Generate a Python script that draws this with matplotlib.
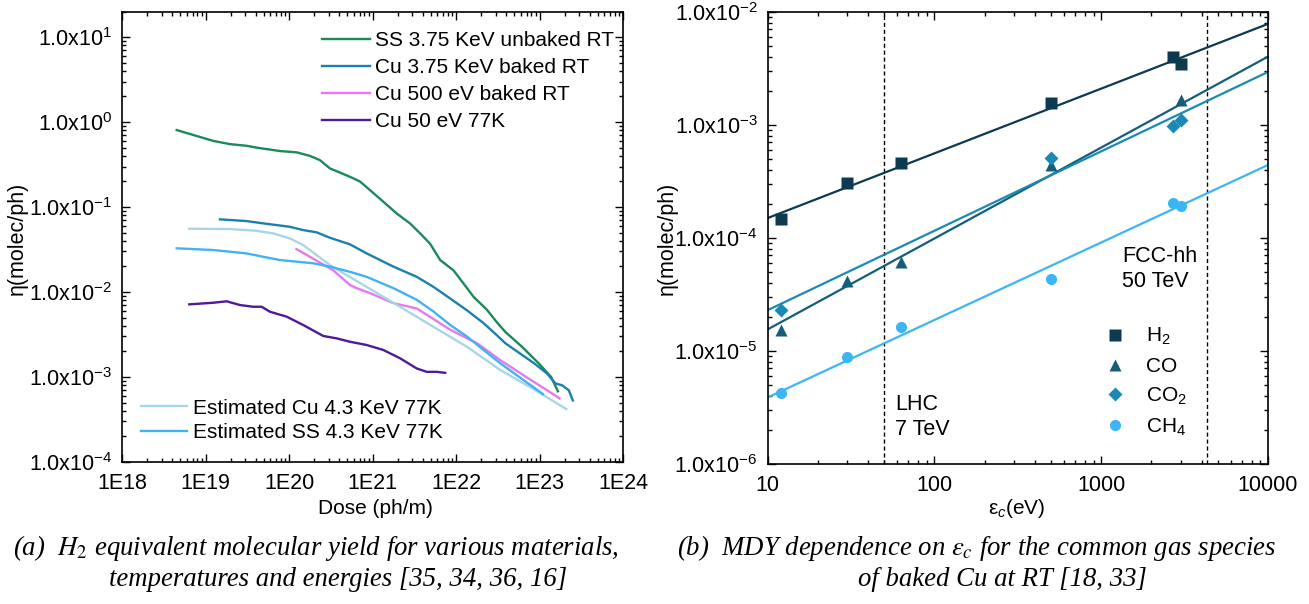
import numpy as np
import matplotlib
matplotlib.use("Agg")
import matplotlib.pyplot as plt
from matplotlib.ticker import LogLocator, FuncFormatter, NullFormatter
from matplotlib.font_manager import FontProperties

plt.rcParams['font.family'] = ['Liberation Sans', 'DejaVu Sans']
plt.rcParams['mathtext.fontset'] = 'custom'
plt.rcParams['mathtext.rm'] = 'Liberation Sans'
plt.rcParams['mathtext.it'] = 'Liberation Sans:italic'

# ---------------- Left panel data (dose in ph/m, eta in molec/ph) ----------------
ss375_dose = [4.52e18, 1.24e19, 1.96e19, 3.11e19, 4.10e19, 7.80e19, 1.24e20, 1.78e20, 2.34e20,
              3.09e20, 5.37e20, 7.08e20, 1.23e21, 1.95e21, 2.82e21, 3.72e21, 4.90e21, 6.46e21,
              9.33e21, 1.23e22, 1.62e22, 2.34e22, 3.09e22, 3.89e22, 6.17e22, 9.77e22, 1.38e23, 1.66e23]
ss375_eta = [0.805, 0.60, 0.55, 0.526, 0.50, 0.456, 0.44, 0.40, 0.357,
             0.285, 0.227, 0.20, 0.125, 0.084, 0.064, 0.049, 0.037, 0.0238,
             0.018, 0.0126, 0.0088, 0.0062, 0.0044, 0.0034, 0.00227, 0.00145, 0.0010, 0.00068]

cu375_dose = [1.49e19, 3.09e19, 4.90e19, 1.02e20, 1.48e20, 2.14e20, 3.09e20, 5.37e20, 8.51e20,
              1.78e21, 3.39e21, 5.37e21, 8.51e21, 1.35e22, 2.14e22, 3.09e22, 3.89e22, 8.71e22,
              1.23e23, 1.55e23, 1.86e23, 2.24e23, 2.51e23]
cu375_eta = [0.0717, 0.0684, 0.0643, 0.0586, 0.0536, 0.0504, 0.0435, 0.0364, 0.0285,
             0.0199, 0.0151, 0.0115, 0.0084, 0.0061, 0.0043, 0.0031, 0.0025, 0.00144,
             0.0011, 0.00084, 0.0008, 0.0007, 0.00053]

cu500_dose = [1.23e20, 3.39e20, 5.37e20, 6.46e20, 9.33e20, 1.78e21, 3.39e21, 4.47e21, 8.51e21,
              1.78e22, 3.39e22, 6.92e22, 1.23e23, 1.74e23]
cu500_eta = [0.032, 0.018, 0.0121, 0.0111, 0.0097, 0.0074, 0.0064, 0.0054, 0.0036,
             0.0025, 0.00158, 0.0010, 0.0007, 0.00056]

cu50_dose = [6.40e18, 1.24e19, 1.79e19, 2.59e19, 3.73e19, 4.71e19, 5.92e19, 9.38e19, 1.48e20,
             2.57e20, 3.72e20, 5.37e20, 8.51e20, 1.35e21, 2.14e21, 3.39e21, 4.47e21, 5.89e21, 7.41e21]
cu50_eta = [0.00716, 0.00748, 0.00778, 0.00703, 0.00671, 0.00671, 0.00586, 0.00513, 0.00409,
            0.00304, 0.00285, 0.0026, 0.00238, 0.00208, 0.00166, 0.00126, 0.00115, 0.00115, 0.00112]

estcu_dose = [6.40e18, 1.96e19, 4.07e19, 6.46e19, 1.02e20, 1.48e20, 2.14e20, 3.09e20, 4.90e20,
              8.51e20, 2.14e21, 5.37e21, 1.35e22, 3.39e22, 8.51e22, 2.09e23]
estcu_eta = [0.0556, 0.0551, 0.0526, 0.049, 0.0428, 0.0357, 0.0272, 0.0208, 0.0158,
             0.0115, 0.0067, 0.0039, 0.00227, 0.00121, 0.00072, 0.00042]

estss_dose = [4.52e18, 1.24e19, 3.09e19, 4.90e19, 7.76e19, 1.95e20, 3.09e20, 5.37e20, 8.51e20,
              1.78e21, 3.39e21, 5.37e21, 8.51e21, 1.35e22, 2.14e22, 3.39e22, 1.10e23]
estss_eta = [0.0327, 0.0312, 0.0285, 0.026, 0.0238, 0.0218, 0.0199, 0.0173, 0.0151,
             0.0111, 0.0081, 0.0059, 0.0041, 0.0030, 0.00208, 0.00145, 0.00063]

left_top_labels = ["SS 3.75 KeV unbaked RT", "Cu 3.75 KeV baked RT", "Cu 500 eV baked RT", "Cu 50 eV 77K"]
left_bottom_labels = ["Estimated Cu 4.3 KeV 77K", "Estimated SS 4.3 KeV 77K"]

# ---------------- Right panel data (critical energy in eV, eta) ----------------
h2_eps = [12, 30, 63, 500, 2700, 3000]
h2_eta = [1.46e-4, 3.04e-4, 4.6e-4, 1.55e-3, 3.94e-3, 3.44e-3]
co_eps = [12, 30, 63, 500, 3000]
co_eta = [1.52e-5, 4.1e-5, 6.13e-5, 4.4e-4, 1.66e-3]
co2_eps = [12, 500, 2700, 3000]
co2_eta = [2.29e-5, 5.05e-4, 9.8e-4, 1.1e-3]
ch4_eps = [12, 30, 63, 500, 2700, 3000]
ch4_eta = [4.2e-6, 8.85e-6, 1.61e-5, 4.3e-5, 2.02e-4, 1.9e-4]

# power-law fits eta = eta10 * (eps/10)^exponent
fit_eta_at_10 = [1.49e-4, 1.54e-5, 2.28e-5, 3.85e-6]
fit_exponent = [0.573, 0.805, 0.703, 0.686]
species_labels = ["H$_2$", "CO", "CO$_2$", "CH$_4$"]
machine_eps = [50, 4300]

# ---------------- Figure ----------------
fig = plt.figure(figsize=(13.09, 6.04), dpi=100)
W, H = 1309, 604

def rect(x0, y0, x1, y1):
    return [x0 / W, 1 - y1 / H, (x1 - x0) / W, (y1 - y0) / H]

axL = fig.add_axes(rect(122, 11.5, 623, 462))
axR = fig.add_axes(rect(767.5, 11.7, 1268, 463.7))

TICK_FS = 15.5
FS = 15

def style_axes(ax):
    ax.set_xscale('log')
    ax.set_yscale('log')
    for s in ax.spines.values():
        s.set_linewidth(1.2)
    ax.tick_params(which='both', direction='in', top=True, right=True, labelsize=TICK_FS, width=1.0)
    ax.tick_params(which='major', length=6)
    ax.tick_params(which='minor', length=3)
    ax.tick_params(axis='y', which='both', pad=7)
    ax.tick_params(axis='x', which='both', pad=8)
    ax.xaxis.set_minor_locator(LogLocator(base=10, subs=np.arange(2, 10), numticks=20))
    ax.yaxis.set_minor_locator(LogLocator(base=10, subs=np.arange(2, 10), numticks=20))
    ax.xaxis.set_minor_formatter(NullFormatter())
    ax.yaxis.set_minor_formatter(NullFormatter())
    ax.yaxis.set_major_formatter(FuncFormatter(lambda v, p: "1.0x10$^{%d}$" % int(round(np.log10(v)))))

# ---- left ----
style_axes(axL)
axL.set_xlim(1e18, 1e24)
axL.set_ylim(1e-4, 2e1)
axL.xaxis.set_major_locator(LogLocator(base=10, numticks=20))
axL.yaxis.set_major_locator(LogLocator(base=10, numticks=20))
axL.xaxis.set_major_formatter(FuncFormatter(lambda v, p: "1E%d" % int(round(np.log10(v)))))

LW = 1.7
l1, = axL.plot(ss375_dose, ss375_eta, color="#1b8a5a", lw=LW)
l2, = axL.plot(cu375_dose, cu375_eta, color="#1b80ae", lw=LW)
l3, = axL.plot(cu500_dose, cu500_eta, color="#e47af0", lw=LW)
l4, = axL.plot(cu50_dose, cu50_eta, color="#4e1a98", lw=LW)
l5, = axL.plot(estcu_dose, estcu_eta, color="#a8d6e6", lw=LW)
l6, = axL.plot(estss_dose, estss_eta, color="#42b2f2", lw=LW)

legA = axL.legend([l1, l2, l3, l4], left_top_labels, loc='upper left',
                  bbox_to_anchor=((322 - 122) / 501, (462 - 31.5) / 450.5), frameon=False,
                  fontsize=FS, handlelength=2.3, handletextpad=0.24, labelspacing=0.38,
                  borderpad=0, borderaxespad=0)
axL.add_artist(legA)
axL.legend([l5, l6], left_bottom_labels, loc='lower left',
           bbox_to_anchor=((141 - 122) / 501, (462 - 442) / 450.5), frameon=False,
           fontsize=FS, handlelength=2.2, handletextpad=0.29, labelspacing=0.26,
           borderpad=0, borderaxespad=0)

# ---- right ----
style_axes(axR)
axR.set_xlim(10, 10000)
axR.set_ylim(1e-6, 1e-2)
axR.xaxis.set_major_locator(LogLocator(base=10, numticks=20))
axR.yaxis.set_major_locator(LogLocator(base=10, numticks=20))
axR.xaxis.set_major_formatter(FuncFormatter(lambda v, p: "%d" % int(round(v))))

colors_R = ["#0c3a50", "#155d78", "#1a8ab5", "#3cb6f3"]
markers_R = ['s', '^', 'D', 'o']
msizes = [8, 8.5, 7, 8]
eps_sets = [h2_eps, co_eps, co2_eps, ch4_eps]
eta_sets = [h2_eta, co_eta, co2_eta, ch4_eta]
eps_line = np.logspace(1, 4, 60)
handles = []
for i in range(4):
    axR.plot(eps_line, fit_eta_at_10[i] * (eps_line / 10.0) ** fit_exponent[i],
             color=colors_R[i], lw=1.6, zorder=2)
for i in range(4):
    h, = axR.plot(eps_sets[i], eta_sets[i], linestyle='none', marker=markers_R[i],
                  ms=msizes[i], color=colors_R[i], mec='none', zorder=3)
    handles.append(h)

for xm in machine_eps:
    axR.axvline(xm, color='black', lw=1.0, linestyle=(0, (3, 2)), zorder=1)

axR.text(58, 2.6e-6, "LHC\n7 TeV", fontsize=15.5, ha='left', va='center', linespacing=1.27)
axR.text(1330, 5.3e-5, "FCC-hh\n50 TeV", fontsize=15.5, ha='left', va='center', linespacing=1.27)

axR.legend(handles, species_labels, loc='upper left',
           bbox_to_anchor=((1106 - 767.5) / 500.5, (463.7 - 326) / 452), frameon=False,
           fontsize=FS, handlelength=0.9, handletextpad=1.02, labelspacing=0.46,
           borderpad=0, borderaxespad=0)

# ---- axis labels ----
fig.text(17 / W, 1 - 238 / H, "η(molec/ph)", rotation=90, ha='center', va='center', fontsize=15.5)
fig.text(667 / W, 1 - 238 / H, "η(molec/ph)", rotation=90, ha='center', va='center', fontsize=15.5)
fig.text(375 / W, 1 - 509 / H, "Dose (ph/m)", ha='center', va='center', fontsize=FS)
fig.text(1017 / W, 1 - 509 / H, "ε$_c$(eV)", ha='center', va='center', fontsize=FS)

# ---- captions ----
cap_fp = FontProperties(family=['Liberation Serif'], style='italic', size=19.3, math_fontfamily='stix')
fig.text(316 / W, 1 - 548 / H, r"(a)  $\mathit{H}_2$ equivalent molecular yield for various materials,",
         ha='center', va='center', fontproperties=cap_fp)
fig.text(338 / W, 1 - 580 / H, "temperatures and energies [35, 34, 36, 16]",
         ha='center', va='center', fontproperties=cap_fp)
fig.text(977 / W, 1 - 548 / H, r"(b)  MDY dependence on $\mathit{\varepsilon}_c$ for the common gas species",
         ha='center', va='center', fontproperties=cap_fp)
fig.text(1002 / W, 1 - 580 / H, "of baked Cu at RT [18, 33]",
         ha='center', va='center', fontproperties=cap_fp)

fig.savefig("out.png", dpi=100)
